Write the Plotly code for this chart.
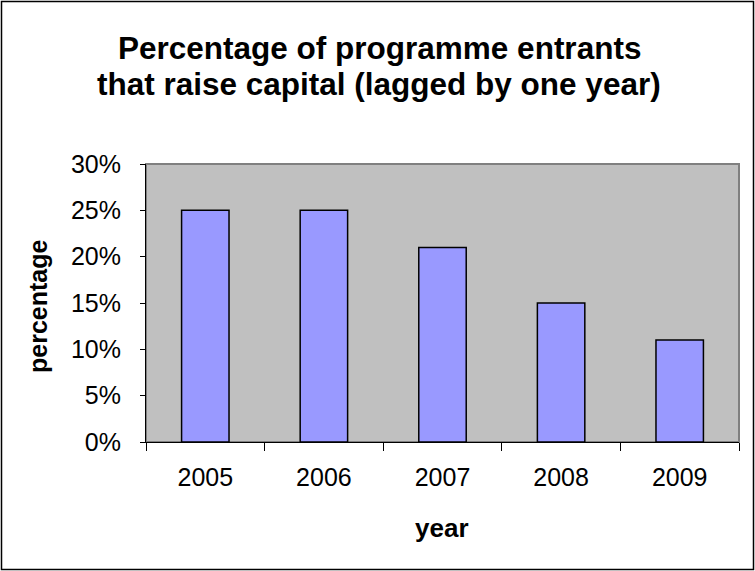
import plotly.graph_objects as go

years = ["2005", "2006", "2007", "2008", "2009"]
percentages = [0.25, 0.25, 0.21, 0.15, 0.11]
title_lines = ["Percentage of programme entrants", "that raise capital (lagged by one year)"]
x_title = "year"
y_title = "percentage"

W, H = 755, 571
L, R, T, B = 146, 16, 164, 129
pw, ph = W - L - R, H - T - B

def px_x(x):
    return (x - L) / pw

def px_y(y):
    return (H - B - y) / ph

FONT = "Liberation Sans, Arial, sans-serif"

fig = go.Figure(go.Bar(
    x=years, y=percentages,
    marker=dict(color="#9999FF", line=dict(color="black", width=1.5)),
))

fig.update_layout(
    width=W, height=H,
    margin=dict(l=L, r=R, t=T, b=B, pad=0),
    paper_bgcolor="white", plot_bgcolor="#C0C0C0",
    bargap=0.6, showlegend=False,
    font=dict(family=FONT, color="black", size=25),
)
fig.update_xaxes(
    showgrid=False, showline=True, linecolor="black", linewidth=1,
    ticks="outside", ticklen=8, tickcolor="black", tickson="boundaries",
    tickfont=dict(size=25), ticklabelstandoff=13,
)
fig.update_yaxes(
    range=[0, 0.30], dtick=0.05, tickformat=".0%",
    showgrid=False, zeroline=False, showline=True, linecolor="black", linewidth=1,
    ticks="outside", ticklen=5, tickcolor="black",
    tickfont=dict(size=25), ticklabelstandoff=14,
)

shapes = [
    dict(type="rect", xref="paper", yref="paper", x0=0, x1=1, y0=0, y1=1,
         line=dict(color="#808080", width=2), layer="below"),
    dict(type="rect", xref="paper", yref="paper",
         x0=px_x(1.5), x1=px_x(753.5), y0=px_y(569.5), y1=px_y(1.5),
         line=dict(color="black", width=1.5)),
]
fig.update_layout(shapes=shapes)

anns = [
    dict(text=f"<b>{title_lines[0]}</b>", x=px_x(379), y=px_y(48)),
    dict(text=f"<b>{title_lines[1]}</b>", x=px_x(379), y=px_y(84)),
]
for a in anns:
    a.update(xref="paper", yref="paper", showarrow=False, xanchor="center", yanchor="middle",
             font=dict(size=31.5, family=FONT))
fig.add_annotation(text=f"<b>{x_title}</b>", x=px_x(442), y=px_y(528), xref="paper", yref="paper",
                   showarrow=False, xanchor="center", yanchor="middle", font=dict(size=26, family=FONT))
fig.add_annotation(text=f"<b>{y_title}</b>", x=px_x(38), y=px_y(307), xref="paper", yref="paper",
                   showarrow=False, xanchor="center", yanchor="middle", textangle=-90,
                   font=dict(size=25, family=FONT))
for a in anns:
    fig.add_annotation(**a)

fig.write_html("out.html", config={"displayModeBar": False},
               post_script="document.body.style.margin='0';")
